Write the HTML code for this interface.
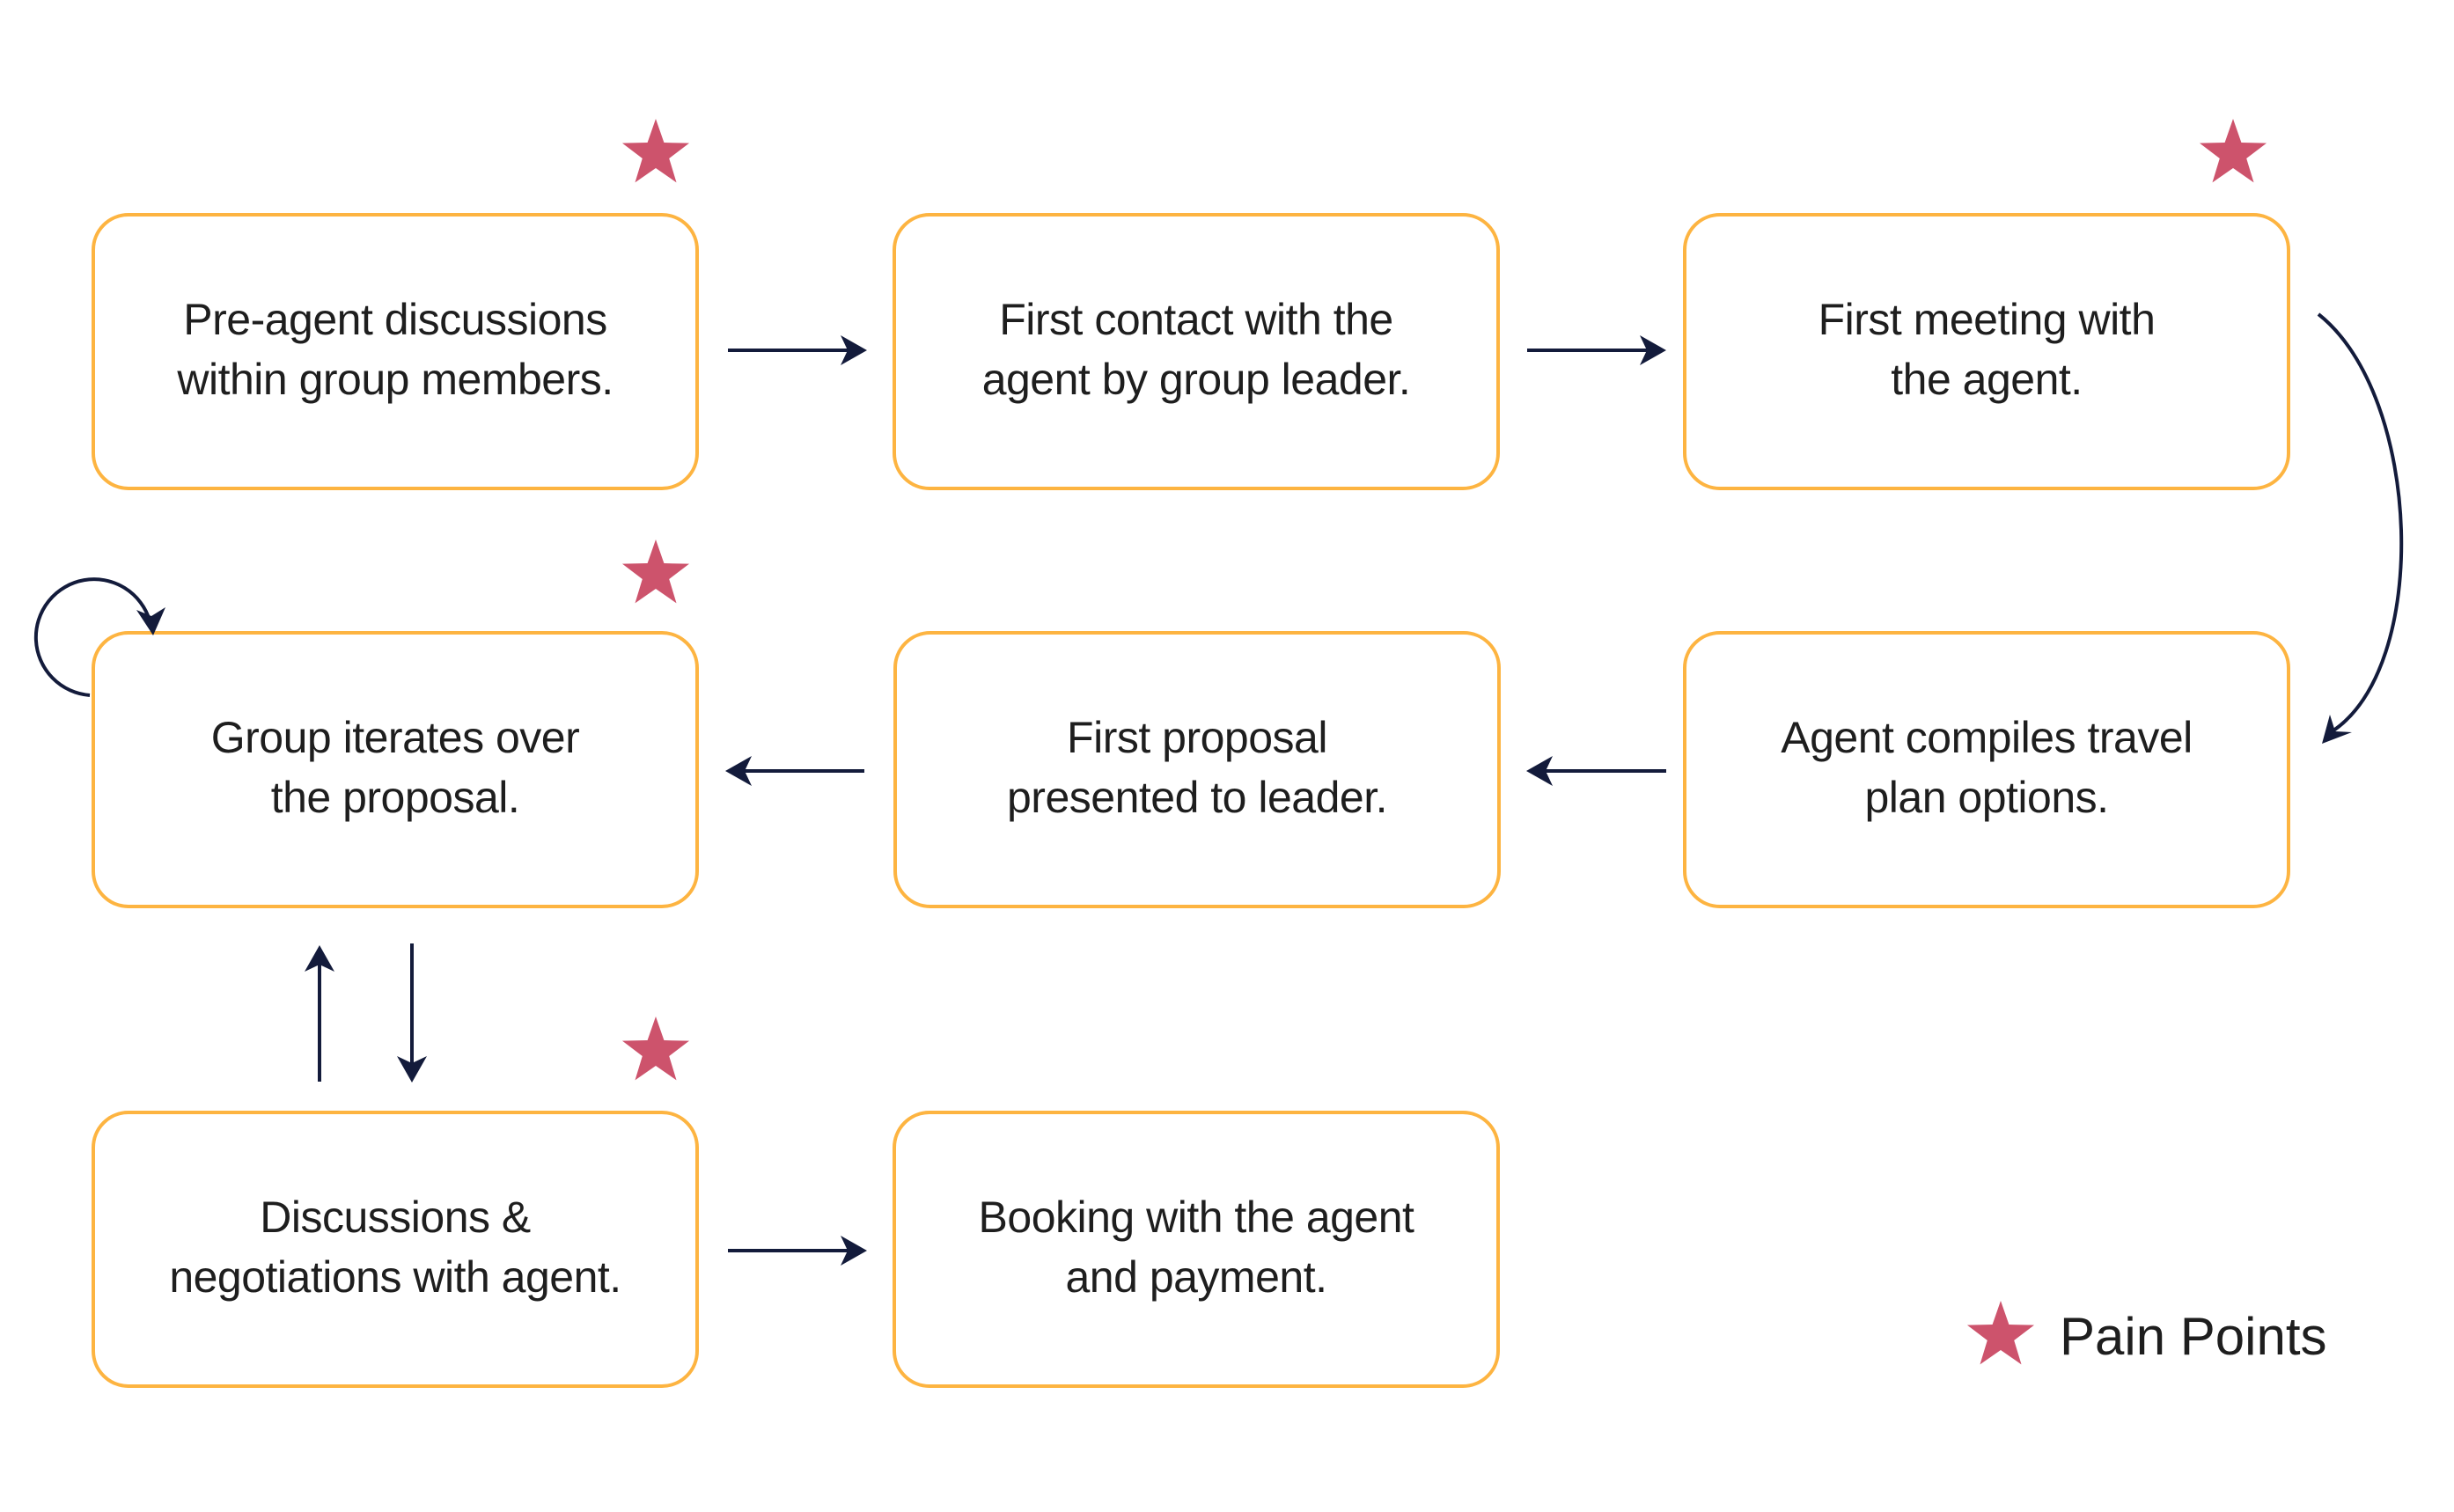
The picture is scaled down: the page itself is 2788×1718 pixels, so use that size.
<!DOCTYPE html>
<html><head><meta charset="utf-8"><style>
html,body{margin:0;padding:0;background:#fff;}
body{width:2788px;height:1718px;position:relative;overflow:hidden;font-family:"Liberation Sans",sans-serif;}
.b{position:absolute;width:682px;border:4px solid #FDB441;border-radius:42px;display:flex;align-items:center;justify-content:center;text-align:center;font-size:50px;line-height:68px;color:#1e1e1e;letter-spacing:-0.5px;padding-bottom:6px;box-sizing:content-box;height:301px;}
svg{position:absolute;left:0;top:0;}
</style></head><body>
<div class="b" style="left:104px;top:242px">Pre-agent discussions<br>within group members.</div>
<div class="b" style="left:1014px;top:242px">First contact with the<br>agent by group leader.</div>
<div class="b" style="left:1912px;top:242px">First meeting with<br>the agent.</div>
<div class="b" style="left:104px;top:717px">Group iterates over<br>the proposal.</div>
<div class="b" style="left:1015px;top:717px">First proposal<br>presented to leader.</div>
<div class="b" style="left:1912px;top:717px">Agent compiles travel<br>plan options.</div>
<div class="b" style="left:104px;top:1262px">Discussions &amp;<br>negotiations with agent.</div>
<div class="b" style="left:1014px;top:1262px">Booking with the agent<br>and payment.</div>
<div style="position:absolute;left:2340px;top:1484px;font-size:60px;color:#1e1e1e;">Pain Points</div>
<svg width="2788" height="1718" viewBox="0 0 2788 1718">
<defs>
<symbol id="s" viewBox="-1 -1 2 2"><polygon fill="#CD536C" points="0,-1 0.235,-0.324 0.951,-0.309 0.38,0.124 0.588,0.809 0,0.4 -0.588,0.809 -0.38,0.124 -0.951,-0.309 -0.235,-0.324"/></symbol>
</defs>
<g stroke="#131B3B" stroke-width="4" fill="none">
<line x1="827" y1="398" x2="970" y2="398"/>
<line x1="1735" y1="398" x2="1878" y2="398"/>
<line x1="840" y1="876" x2="982" y2="876"/>
<line x1="1750" y1="876" x2="1893" y2="876"/>
<line x1="827" y1="1421" x2="970" y2="1421"/>
<line x1="363" y1="1229" x2="363" y2="1090"/>
<line x1="468" y1="1072" x2="468" y2="1213"/>
<path d="M2634,357 C2752,450 2762,760 2648,832"/>
<path d="M102,790 A66,66 0 1 1 170,705"/>
</g>
<g fill="#131B3B">
<polygon points="985,398 955,381 963,398 955,415"/>
<polygon points="1893,398 1863,381 1871,398 1863,415"/>
<polygon points="824,876 854,859 846,876 854,893"/>
<polygon points="1734,876 1764,859 1756,876 1764,893"/>
<polygon points="985,1421 955,1404 963,1421 955,1438"/>
<polygon points="363,1074 346,1104 363,1096 380,1104"/>
<polygon points="468,1230 451,1200 468,1208 485,1200"/>
<polygon points="2638,845 2647,812 2653,831 2672,832"/>
<polygon points="174,722 155,693 172,700 188,690"/>
</g>
<use href="#s" x="705" y="135" width="80" height="80"/>
<use href="#s" x="2497" y="135" width="80" height="80"/>
<use href="#s" x="705" y="613" width="80" height="80"/>
<use href="#s" x="705" y="1155" width="80" height="80"/>
<use href="#s" x="2233" y="1478" width="80" height="80"/>
</svg>
</body></html>
